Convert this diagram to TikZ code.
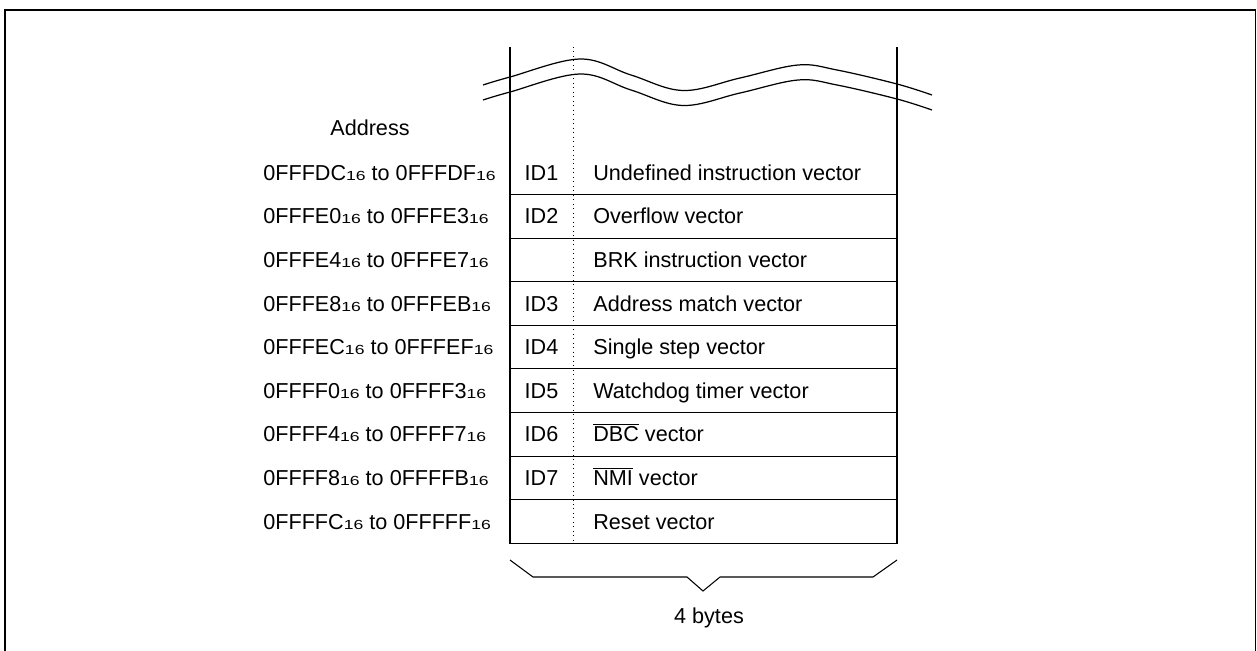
\documentclass[tikz,border=0pt]{standalone}
\usepackage{fontspec}
\usepackage{graphicx}
\setmainfont{Liberation Sans}
\usetikzlibrary{positioning}
\newcommand{\SixTeen}{\scalebox{1}[0.75]{\fontsize{10}{10}\selectfont 16}}
\newcommand{\AddrRange}[2]{#1\SixTeen{} to #2\SixTeen}

\begin{document}
\begin{tikzpicture}[x=0.02cm,y=-0.02cm,
    every node/.style={font=\fontsize{12.3}{14}\selectfont, inner sep=0pt},
    frameline/.style={line width=1.1pt},
    wall/.style={line width=1.1pt},
    rowline/.style={line width=0.6pt},
    idsep/.style={line width=0.55pt, dotted},
    wave/.style={line width=0.7pt}]
    \useasboundingbox (0,0) rectangle (1257,650);

    % outer frame
    \draw[frameline] (5,680) -- (5,10) -- (1255.5,10) -- (1255.5,680);

    \coordinate (TL) at (510,47);
    \coordinate (TR) at (897,47);
    \coordinate (BL) at (510,543.5);
    \coordinate (BR) at (897,543.5);
    \coordinate (DT) at (573,47);
    \coordinate (DB) at (573,543.5);

    \draw[wall] (TL) -- (BL);
    \draw[wall] (TR) -- (BR);
    \draw[idsep] (DT) -- (DB);

    % the cut through the memory map
    \foreach \dy in {0,15} {
        \draw[wave] plot[smooth, tension=0.6] coordinates {
            (483,85+\dy) (510,77+\dy) (580,59+\dy) (631,75+\dy) (683,90.5+\dy)
            (740,78+\dy) (798,65+\dy) (837,70+\dy) (897,84+\dy) (932,95+\dy)};
    }

    \node[anchor=base west] (addrhead) at (330,135) {Address};

    \foreach \idname/\vname/\lo/\hi [count=\k from 0] in {
        ID1/Undefined instruction vector/0FFFDC/0FFFDF,
        ID2/Overflow vector/0FFFE0/0FFFE3,
        {}/BRK instruction vector/0FFFE4/0FFFE7,
        ID3/Address match vector/0FFFE8/0FFFEB,
        ID4/Single step vector/0FFFEC/0FFFEF,
        ID5/Watchdog timer vector/0FFFF0/0FFFF3,
        ID6/{$\overline{\mbox{DBC}}$ vector}/0FFFF4/0FFFF7,
        ID7/{$\overline{\mbox{NMI}}$ vector}/0FFFF8/0FFFFB,
        {}/Reset vector/0FFFFC/0FFFFF} {
        \pgfmathsetmacro{\yc}{172.7+43.6*\k}
        \draw[rowline] (510,\yc+21.8) -- (897,\yc+21.8);
        \node[anchor=base west] (addr\k) at (263,\yc+7.5) {\AddrRange{\lo}{\hi}};
        \node[anchor=base] (id\k) at (541.5,\yc+7.5) {\idname};
        \node[anchor=base west] (vec\k) at (593,\yc+7.5) {\vname};
    }

    % width brace
    \draw[rowline] (510,560) -- (533,577) -- (687,577) -- (703,591)
        -- (720,577) -- (873,577) -- (897,560);
    \node[anchor=base] (bytes) at (709,623) {4 bytes};
\end{tikzpicture}
\end{document}
